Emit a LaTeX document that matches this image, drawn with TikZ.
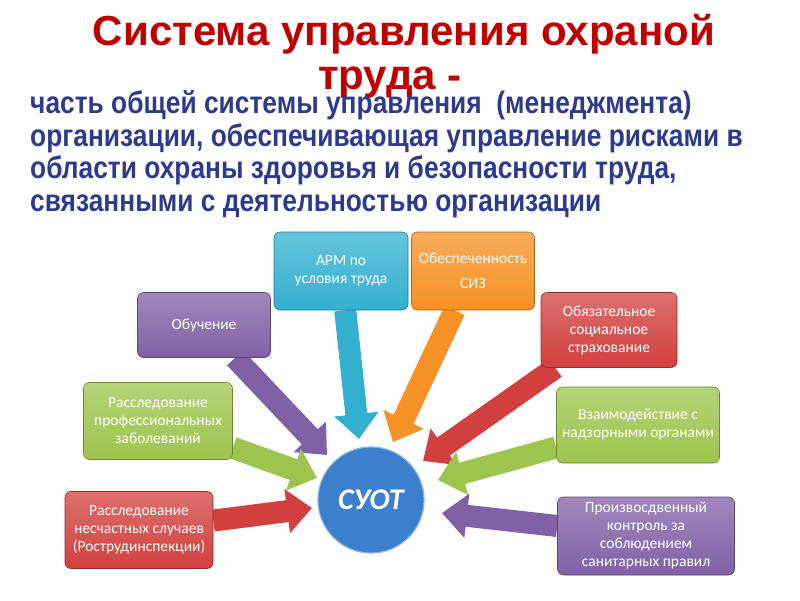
\documentclass[tikz,border=0pt]{standalone}
\usepackage{fontspec}
\setmainfont{Liberation Sans}
\newfontfamily\bodyfont[FakeStretch=0.85]{Liberation Sans}
\newfontfamily\boxfont{Carlito}
\usetikzlibrary{arrows.meta}
\definecolor{titlered}{HTML}{C00000}
\definecolor{bodyblue}{HTML}{2E3B8C}
\definecolor{cyanc}{HTML}{33B0D0}
\definecolor{orangec}{HTML}{F59125}
\definecolor{purplec}{HTML}{8061A6}
\definecolor{redc}{HTML}{D1403E}
\definecolor{greenc}{HTML}{9DC44D}
\definecolor{bluec}{HTML}{3B7FCD}
\pgfdeclarelayer{front}
\pgfsetlayers{main,front}
\tikzset{
  box/.style={rounded corners=6pt, draw=#1!70!black, line width=0.6pt,
    top color=#1!75!white, bottom color=#1, text=white,
    font=\boxfont\fontsize{15.5}{18}\selectfont, align=center, inner sep=2pt},
  arr/.style={line width=22pt, draw=#1, -{Triangle[length=25pt,width=43pt]}},
  titletext/.style={text=titlered, font=\bfseries\fontsize{42}{48}\selectfont, anchor=base, inner sep=0pt},
  bodytext/.style={text=bodyblue, font=\bodyfont\bfseries\fontsize{31}{33}\selectfont, anchor=base west, inner sep=0pt},
}
\begin{document}
\begin{tikzpicture}[x=1pt,y=-1pt]
\useasboundingbox (0,0) rectangle (800,600);
\fill[white] (0,0) rectangle (800,600);
\begin{pgfonlayer}{front}
\node[titletext] (title1) at (404,45) {Система управления охраной};
\node[titletext] (title2) at (390,89) {труда -};
\node[bodytext] (l1) at (30,113) {часть общей системы управления \ (менеджмента)};
\node[bodytext] (l2) at (30,146) {организации, обеспечивающая управление рисками в};
\node[bodytext] (l3) at (30,178) {области охраны здоровья и безопасности труда,};
\node[bodytext] (l4) at (30,211) {связанными с деятельностью организации};
\node[box=cyanc, minimum width=134pt, minimum height=78pt] (arm) at (341,271) {АРМ по\\условия труда};
\node[box=orangec, minimum width=123pt, minimum height=78pt, font=\boxfont\fontsize{15.5}{25}\selectfont] (siz) at (473,271) {Обеспеченность\\СИЗ};
\node[box=purplec, minimum width=133pt, minimum height=65pt] (obuch) at (204,325) {Обучение};
\node[box=redc, minimum width=136pt, minimum height=75pt] (strah) at (609,330) {Обязательное\\социальное\\страхование};
\node[box=greenc, minimum width=149pt, minimum height=77pt] (prof) at (158,421) {Расследование\\профессиональных\\заболеваний};
\node[box=greenc, minimum width=163pt, minimum height=76pt] (nadz) at (638,425) {Взаимодействие с\\надзорными органами};
\node[box=redc, minimum width=148pt, minimum height=77pt] (nesch) at (139,530) {Расследование\\несчастных случаев\\(Рострудинспекции)};
\node[box=purplec, minimum width=177pt, minimum height=78pt] (kontr) at (646,536) {Произвосдвенный\\контроль за\\соблюдением\\санитарных правил};
\node[circle, fill=bluec, draw=bluec!60!white, line width=1.2pt, minimum size=106pt, text=white,
  font=\boxfont\bfseries\itshape\fontsize{30}{30}\selectfont] (suot) at (371,500) {СУОТ};
\end{pgfonlayer}
\coordinate (tArm) at (359,439);
\coordinate (tSiz) at (393,442);
\coordinate (tObuch) at (327,455);
\coordinate (tStrah) at (423,461);
\coordinate (tProf) at (317,478);
\coordinate (tNadz) at (438,480);
\coordinate (tNesch) at (312,508);
\coordinate (tKontr) at (442,513);
\draw[arr=cyanc] (arm) -- (tArm);
\draw[arr=orangec] (siz) -- (tSiz);
\draw[arr=purplec] (obuch) -- (tObuch);
\draw[arr=redc] (strah) -- (tStrah);
\draw[arr=greenc] (prof) -- (tProf);
\draw[arr=greenc] (nadz) -- (tNadz);
\draw[arr=redc] (nesch) -- (tNesch);
\draw[arr=purplec] (kontr) -- (tKontr);
\end{tikzpicture}
\end{document}
